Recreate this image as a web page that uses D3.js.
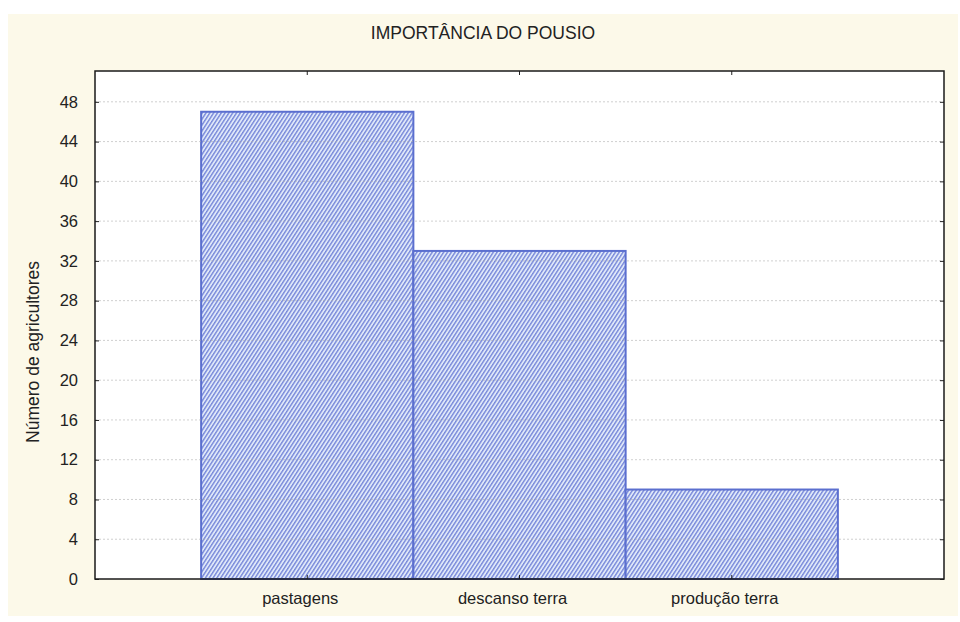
<!DOCTYPE html>
<html><head><meta charset="utf-8">
<script src="https://cdn.jsdelivr.net/npm/d3@7"></script>
<style>body{margin:0;background:#fff}svg{display:block}</style>
</head><body>
<svg id="c" width="960" height="622"></svg>
<script>
const categories = ["pastagens", "descanso terra", "produção terra"];
const values = [47, 33, 9];
const yTicks = [0, 4, 8, 12, 16, 20, 24, 28, 32, 36, 40, 44, 48];
const title = "IMPORTÂNCIA DO POUSIO";
const yLabel = "Número de agricultores";

const svg = d3.select("#c");
const W = 960, H = 622;
const m = {left: 95, right: 16, top: 71, bottom: 43};
const iw = W - m.left - m.right, ih = H - m.top - m.bottom;
const font = "Liberation Sans, Arial, sans-serif";

svg.append("rect").attr("x", 8).attr("y", 14).attr("width", 950).attr("height", 602).attr("fill", "#fcf9e9");

const defs = svg.append("defs");
const pat = defs.append("pattern").attr("id", "hatch").attr("patternUnits", "userSpaceOnUse")
  .attr("width", 3.2).attr("height", 3.2).attr("patternTransform", "rotate(33)");
pat.append("rect").attr("width", 3.2).attr("height", 3.2).attr("fill", "#dfe8f9");
pat.append("rect").attr("width", 1.4).attr("height", 3.2).attr("fill", "#7888da");

const g = svg.append("g").attr("transform", `translate(${m.left},${m.top})`);
g.append("rect").attr("width", iw).attr("height", ih).attr("fill", "#fff");

const x = d3.scaleBand().domain(categories).range([0, iw]).paddingInner(0).paddingOuter(0.5);
const y = d3.scaleLinear().domain([0, 51.1]).range([ih, 0]);

g.selectAll(".bar").data(categories).join("rect")
  .attr("x", d => x(d)).attr("width", x.bandwidth())
  .attr("y", (d, i) => y(values[i])).attr("height", (d, i) => ih - y(values[i]))
  .attr("fill", "url(#hatch)").attr("stroke", "#5b6fcf").attr("stroke-width", 2);

// grid
g.selectAll(".grid").data(yTicks.filter(t => t > 0)).join("line")
  .attr("x1", 0).attr("x2", iw).attr("y1", d => y(d)).attr("y2", d => y(d))
  .attr("stroke", "#aaa").attr("stroke-opacity", 0.55).attr("stroke-width", 1).attr("stroke-dasharray", "2,2");

// axes
const yl = d3.axisLeft(y).tickValues(yTicks).tickSizeInner(-4).tickSizeOuter(0).tickPadding(17);
const ga = g.append("g").call(yl);
ga.select(".domain").remove();
ga.selectAll("text").attr("font-size", 16.5).attr("font-family", font).attr("fill", "#222");
ga.selectAll("line").attr("stroke", "#222");

const yr = d3.axisRight(y).tickValues(yTicks).tickSizeInner(-4).tickSizeOuter(0).tickFormat("");
const gr = g.append("g").attr("transform", `translate(${iw},0)`).call(yr);
gr.select(".domain").remove();
gr.selectAll("line").attr("stroke", "#222");

const xb = d3.axisBottom(x).tickSizeInner(-4).tickSizeOuter(0).tickPadding(13);
const gb = g.append("g").attr("transform", `translate(0,${ih})`).call(xb);
gb.select(".domain").remove();
gb.selectAll("text").attr("font-size", 16.5).attr("font-family", font).attr("fill", "#222").attr("dx", -7);
gb.selectAll("line").attr("stroke", "#222");

const xt = d3.axisTop(x).tickSizeInner(-4).tickSizeOuter(0).tickFormat("");
const gt = g.append("g").call(xt);
gt.select(".domain").remove();
gt.selectAll("line").attr("stroke", "#222");

g.append("rect").attr("width", iw).attr("height", ih).attr("fill", "none").attr("stroke", "#1a1a1a").attr("stroke-width", 1.5);

svg.append("text").attr("x", 483).attr("y", 39).attr("text-anchor", "middle")
  .attr("font-size", 17.5).attr("font-family", font).attr("fill", "#222").text(title);

svg.append("text").attr("transform", `translate(39,352) rotate(-90)`).attr("text-anchor", "middle")
  .attr("font-size", 17.5).attr("font-family", font).attr("fill", "#222").text(yLabel);
</script>
</body></html>
